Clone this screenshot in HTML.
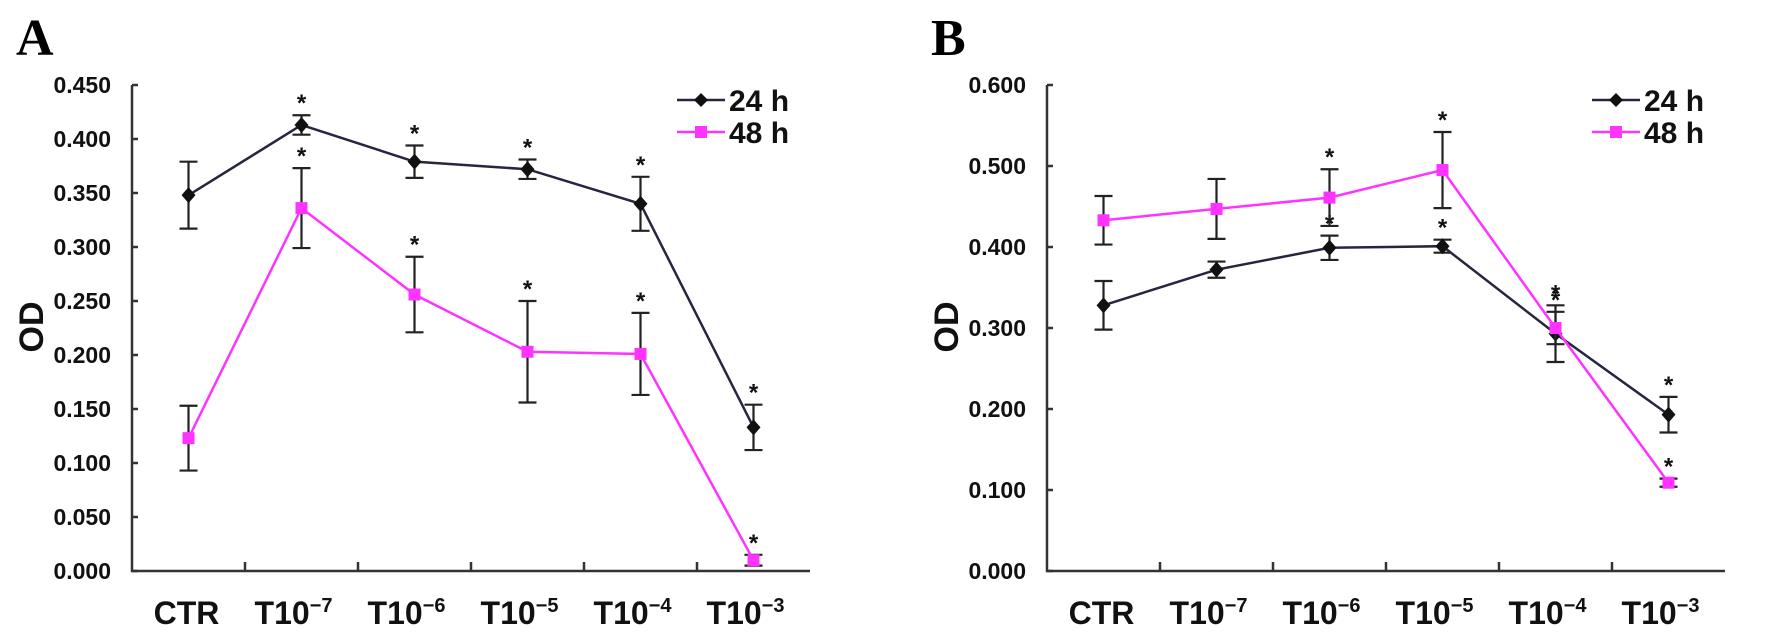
<!DOCTYPE html>
<html><head><meta charset="utf-8"><style>
html,body{margin:0;padding:0;background:#fff;}
svg{display:block;font-family:"Liberation Sans",Arial,sans-serif;}
</style></head><body>
<svg id="chart" width="1772" height="638" viewBox="0 0 1772 638" xmlns="http://www.w3.org/2000/svg"></svg>
<script>
const categories = ["CTR","T10","T10","T10","T10","T10"];
const catExponents = ["","−7","−6","−5","−4","−3"];
const aTicks = [0,0.05,0.1,0.15,0.2,0.25,0.3,0.35,0.4,0.45];
const aTickLabels = ["0.000","0.050","0.100","0.150","0.200","0.250","0.300","0.350","0.400","0.450"];
const a24 = [0.348,0.413,0.379,0.372,0.340,0.133];
const a24err = [0.031,0.009,0.015,0.009,0.025,0.021];
const a24star = [0,1,1,1,1,1];
const a48 = [0.123,0.336,0.256,0.203,0.201,0.010];
const a48err = [0.030,0.037,0.035,0.047,0.038,0.005];
const a48star = [0,1,1,1,1,1];
const bTicks = [0,0.1,0.2,0.3,0.4,0.5,0.6];
const bTickLabels = ["0.000","0.100","0.200","0.300","0.400","0.500","0.600"];
const b24 = [0.328,0.372,0.399,0.401,0.293,0.193];
const b24err = [0.030,0.010,0.015,0.008,0.035,0.022];
const b24star = [0,0,1,1,1,1];
const b48 = [0.433,0.447,0.461,0.495,0.300,0.109];
const b48err = [0.030,0.037,0.035,0.047,0.020,0.005];
const b48star = [0,0,1,1,1,1];

const NS="http://www.w3.org/2000/svg";
const svg=document.getElementById('chart');
function mk(tag,attrs,parent){const e=document.createElementNS(NS,tag);for(const k in attrs)e.setAttribute(k,attrs[k]);(parent||svg).appendChild(e);return e;}
const C24="#26263f", C48="#ff33ff";

function panel(id,ax,letter,ticks,tickLabels,ymax,s24,e24,st24,s48,e48,st48){
  const g=mk('g',{});
  
  
  const top=85,bot=571,step=113,width=step*categories.length;
  const y=v=>bot-(v/ymax)*(bot-top);
  const x=i=>ax+step*(i+0.5);
  const L=mk('text',{x:ax-116,y:55,'font-family':'"Liberation Serif",serif','font-weight':'bold','font-size':52,fill:'#000'},g);
  L.textContent=letter;
  
  
  const axis=mk('path',{d:`M${ax},${top} V${bot} H${ax+width}`,stroke:'#333',fill:'none','stroke-width':2.5},g);
  
  
  ticks.forEach((t,k)=>{
    mk('line',{x1:ax,x2:ax+6,y1:y(t),y2:y(t),stroke:'#333','stroke-width':2.5},g);
    const tl=mk('text',{x:ax-21,y:y(t)+8,'text-anchor':'end','font-weight':'bold','font-size':23,fill:'#111'},g);
    tl.textContent=tickLabels[k];
    
    
  });
  for(let i=1;i<categories.length;i++){mk('line',{x1:ax+step*i,x2:ax+step*i,y1:bot,y2:bot-9,stroke:'#333','stroke-width':2.5},g);}
  categories.forEach((c,i)=>{
    const t=mk('text',{x:x(i)-(catExponents[i]?8:2),y:624,'text-anchor':'middle','font-weight':'bold','font-size':32,fill:'#111'},g);
    t.textContent=c;
    if(catExponents[i]){const ts=mk('tspan',{dy:-12,'font-size':20},t);ts.textContent=catExponents[i];}
    
    
  });
  const ot=mk('text',{x:0,y:0,transform:`translate(${ax-89},${327}) rotate(-90)`,'text-anchor':'middle','font-weight':'bold','font-size':34,fill:'#111'},g);
  ot.textContent='OD';
  
  
  function series(vals,errs,stars,col,sq,name){
    const sg=mk('g',{},g);
    
    
    vals.forEach((v,i)=>{
      const hi=y(v+errs[i]),lo=y(v-errs[i]);
      mk('path',{d:`M${x(i)},${hi}V${lo}M${x(i)-9},${hi}H${x(i)+9}M${x(i)-9},${lo}H${x(i)+9}`,stroke:'#222','stroke-width':2.2,fill:'none'},sg);
      if(stars[i]){const s=mk('text',{x:x(i),y:hi-4,'text-anchor':'middle','font-weight':'bold','font-size':24,fill:'#111'},sg);s.textContent='*';}
    });
    const ln=mk('polyline',{points:vals.map((v,i)=>x(i)+','+y(v)).join(' '),stroke:col,'stroke-width':2.5,fill:'none'},sg);
    
    
    vals.forEach((v,i)=>{
      const m=sq?mk('rect',{x:x(i)-6,y:y(v)-6,width:12,height:12,fill:col},sg):mk('path',{d:`M${x(i)},${y(v)-8}L${x(i)+7},${y(v)}L${x(i)},${y(v)+8}L${x(i)-7},${y(v)}Z`,fill:'#111'},sg);
      
      
    });
  }
  series(s24,e24,st24,C24,false,'24h');
  series(s48,e48,st48,C48,true,'48h');
  const lx=ax+545;
  [[C24,false,'24 h',100],[C48,true,'48 h',132]].forEach(([col,sq,lab,ly])=>{
    const lg=mk('g',{},g);
    
    
    mk('line',{x1:lx,x2:lx+48,y1:ly,y2:ly,stroke:col,'stroke-width':2.5},lg);
    if(sq)mk('rect',{x:lx+18,y:ly-6,width:12,height:12,fill:col},lg);
    else mk('path',{d:`M${lx+24},${ly-7}L${lx+31},${ly}L${lx+24},${ly+7}L${lx+17},${ly}Z`,fill:'#111'},lg);
    const t=mk('text',{x:lx+52,y:ly+11,'font-weight':'bold','font-size':30,fill:'#111'},lg);
    t.textContent=lab;
  });
}
panel('a',132,'A',aTicks,aTickLabels,0.45,a24,a24err,a24star,a48,a48err,a48star);
panel('b',1047,'B',bTicks,bTickLabels,0.6,b24,b24err,b24star,b48,b48err,b48star);
</script>
</body></html>
